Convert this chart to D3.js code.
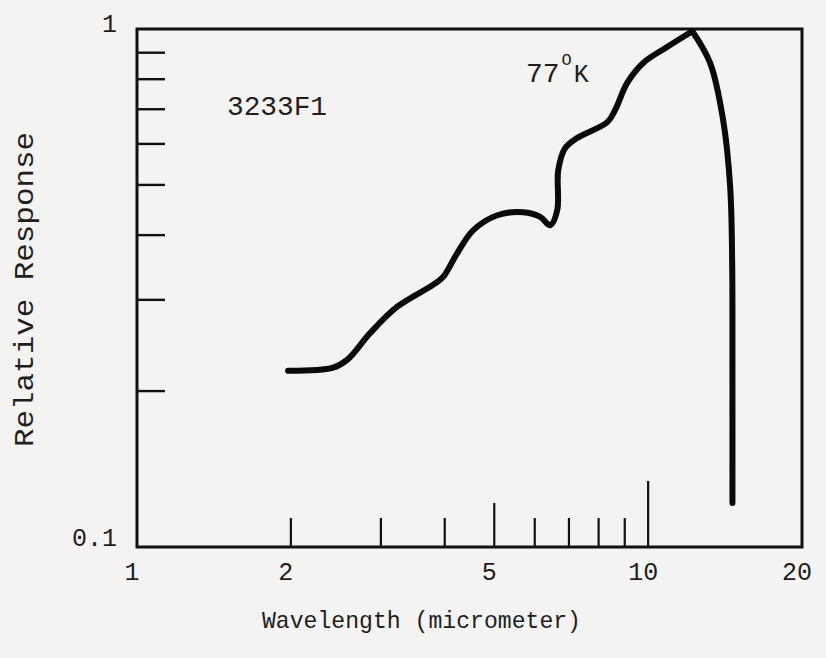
<!DOCTYPE html>
<html>
<head>
<meta charset="utf-8">
<script src="https://cdn.jsdelivr.net/npm/d3@7/dist/d3.min.js"></script>
<style>
  body { margin: 0; background: #f3f3f1; }
  text { font-family: "Liberation Mono", "Courier New", monospace; fill: #1e1e1e; }
</style>
</head>
<body>
<div id="chart"></div>
<script>
// data
var wavelength = [1.975, 2.42, 2.58, 2.86, 3.23, 3.80, 3.97, 4.23, 4.55, 5.07, 5.69, 6.15, 6.43, 6.64, 6.67, 6.88, 7.26, 8.32, 8.62, 9.10, 9.78, 10.89, 12.2, 13.22, 14.02, 14.47, 14.6, 14.62, 14.62];
var response   = [0.219, 0.222, 0.230, 0.259, 0.291, 0.321, 0.332, 0.369, 0.409, 0.437, 0.443, 0.434, 0.418, 0.447, 0.534, 0.589, 0.616, 0.661, 0.698, 0.787, 0.860, 0.923, 0.99, 0.86, 0.667, 0.496, 0.358, 0.22, 0.1216];
var peakIndex = 22;

var xTicks = [2, 3, 4, 5, 6, 7, 8, 9, 10];
var xTickLabels = [1, 2, 5, 10, 20];
var yTicks = [0.2, 0.3, 0.4, 0.5, 0.6, 0.7, 0.8, 0.9];
var yTickLabels = [1, 0.1];

var width = 826;
var height = 658;
var plot = { top: 29, right: 802, bottom: 547, left: 137 };

var svg = d3.select('#chart')
            .append('svg')
            .attr('width', width)
            .attr('height', height);

var xScale = d3.scaleLog()
               .domain([1, 20])
               .range([plot.left, plot.right]);

var yScale = d3.scaleLog()
               .domain([0.1, 1])
               .range([plot.bottom, plot.top]);

// ticks point inward, 10 and 5 are longer
svg.append('g')
   .selectAll('line')
   .data(xTicks)
   .enter()
   .append('line')
   .attr('x1', function(d){ return xScale(d) })
   .attr('x2', function(d){ return xScale(d) })
   .attr('y1', plot.bottom)
   .attr('y2', function(d){
     var len = d === 10 ? 66 : (d === 5 ? 44 : 29);
     return plot.bottom - len;
   })
   .attr('stroke', '#111')
   .attr('stroke-width', 2.2);

svg.append('g')
   .selectAll('line')
   .data(yTicks)
   .enter()
   .append('line')
   .attr('x1', plot.left)
   .attr('x2', plot.left + 28)
   .attr('y1', function(d){ return yScale(d) })
   .attr('y2', function(d){ return yScale(d) })
   .attr('stroke', '#111')
   .attr('stroke-width', 2.4);

// frame
svg.append('rect')
   .attr('x', plot.left)
   .attr('y', plot.top)
   .attr('width', plot.right - plot.left)
   .attr('height', plot.bottom - plot.top)
   .attr('fill', 'none')
   .attr('stroke', '#111')
   .attr('stroke-width', 3);

// tick labels
svg.append('g')
   .selectAll('text')
   .data(xTickLabels)
   .enter()
   .append('text')
   .attr('x', function(d){ return xScale(d) - 5 })
   .attr('y', 580)
   .attr('text-anchor', 'middle')
   .attr('font-size', 25)
   .text(function(d){ return d });

svg.append('g')
   .selectAll('text')
   .data(yTickLabels)
   .enter()
   .append('text')
   .attr('x', 117)
   .attr('y', function(d){ return yScale(d) + (d === 1 ? 3 : -1) })
   .attr('text-anchor', 'end')
   .attr('font-size', 25)
   .text(function(d){ return d });

// axis titles
svg.append('text')
   .attr('x', 262)
   .attr('y', 628)
   .attr('font-size', 24)
   .attr('textLength', 319)
   .attr('lengthAdjust', 'spacingAndGlyphs')
   .text('Wavelength (micrometer)');

svg.append('text')
   .attr('transform', 'translate(33,447) rotate(-90)')
   .attr('font-size', 27)
   .attr('textLength', 315)
   .attr('lengthAdjust', 'spacingAndGlyphs')
   .text('Relative Response');

// annotations
svg.append('text')
   .attr('x', 227)
   .attr('y', 115)
   .attr('font-size', 28)
   .attr('textLength', 100)
   .attr('lengthAdjust', 'spacingAndGlyphs')
   .text('3233F1');

var tempLabel = svg.append('text')
   .attr('x', 526)
   .attr('y', 82)
   .attr('font-size', 28);
tempLabel.append('tspan').text('77');
tempLabel.append('tspan').attr('font-size', 17).attr('dy', -17).attr('dx', 2).text('O');
tempLabel.append('tspan').attr('font-size', 25).attr('dy', 17).attr('dx', 2).text('K');

// curve, split at the peak so the top stays pointed
var points = wavelength.map(function(d, i){ return [d, response[i]] });

var linePath = d3.line()
                 .x(function(d){ return xScale(d[0]) })
                 .y(function(d){ return yScale(d[1]) })
                 .curve(d3.curveCatmullRom.alpha(0.5));

svg.append('g')
   .selectAll('path')
   .data([points.slice(0, peakIndex + 1), points.slice(peakIndex)])
   .enter()
   .append('path')
   .attr('d', function(d){ return linePath(d) })
   .attr('fill', 'none')
   .attr('stroke', '#0a0a0a')
   .attr('stroke-width', 6)
   .attr('stroke-linecap', 'round')
   .attr('stroke-linejoin', 'round');
</script>
</body>
</html>
